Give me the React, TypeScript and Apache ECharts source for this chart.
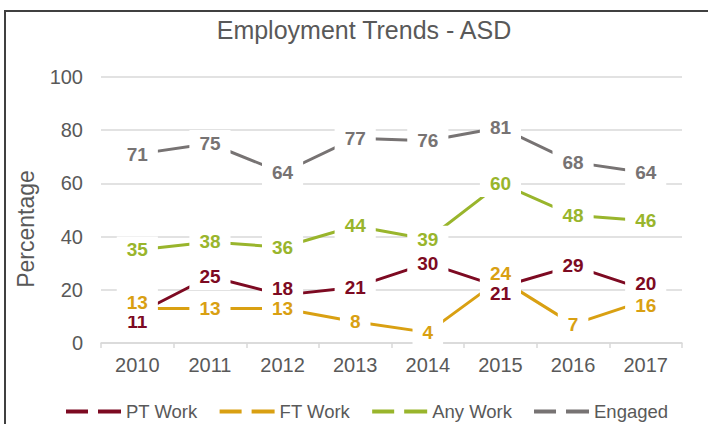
import React, { useEffect, useRef } from "react";
import * as echarts from "echarts";

const years = ["2010", "2011", "2012", "2013", "2014", "2015", "2016", "2017"];
const ptWork = [11, 25, 18, 21, 30, 21, 29, 20];
const ftWork = [13, 13, 13, 8, 4, 24, 7, 16];
const anyWork = [35, 38, 36, 44, 39, 60, 48, 46];
const engaged = [71, 75, 64, 77, 76, 81, 68, 64];

const seriesNames = ["PT Work", "FT Work", "Any Work", "Engaged"];
const seriesColors = ["#7d0a22", "#d9a012", "#99b52c", "#777373"];

// vertical nudges of some data labels (pixels), as in the reference
const labelNudges: Record<string, Record<number, number>> = {
  "PT Work": { 0: 8, 2: -7, 5: 6, 7: -6 },
  "FT Work": { 0: -6, 5: -6, 7: 5 },
};

const FONT = "'Liberation Sans', Arial, sans-serif";
const TXT = "#595959";

export default function App() {
  const ref = useRef<HTMLDivElement>(null);
  useEffect(() => {
    if (!ref.current) return;
    const chart = echarts.init(ref.current, undefined, { renderer: "svg" });
    const allValues = [ptWork, ftWork, anyWork, engaged];
    const series = seriesNames.map((name, si) => {
      const nudges = labelNudges[name] || {};
      return {
        name,
        type: "line",
        data: allValues[si].map((v, i) =>
          nudges[i] !== undefined
            ? { value: v, label: { offset: [0, nudges[i]] } }
            : v
        ),
        symbol: "circle",
        symbolSize: 0.01,
        showSymbol: true,
        lineStyle: { color: seriesColors[si], width: 3, cap: "butt" },
        itemStyle: { color: seriesColors[si] },
        label: {
          show: true,
          position: "inside",
          color: seriesColors[si],
          fontFamily: FONT,
          fontWeight: "bold",
          fontSize: 19,
          backgroundColor: "#ffffff",
          padding: [4, 10],
        },
        emphasis: { disabled: true },
        z: 2,
      };
    });
    chart.setOption({
      animation: false,
      backgroundColor: "#ffffff",
      textStyle: { fontFamily: FONT },
      grid: { left: 101, right: 26, top: 77, bottom: 81, containLabel: false },
      xAxis: {
        type: "category",
        data: years,
        boundaryGap: true,
        axisLine: { lineStyle: { color: "#d9d9d9", width: 1.5 } },
        axisTick: { show: true, length: 5, lineStyle: { color: "#d9d9d9", width: 1.5 } },
        axisLabel: { color: TXT, fontSize: 20, margin: 12, fontFamily: FONT },
        splitLine: { show: false },
      },
      yAxis: {
        type: "value",
        min: 0,
        max: 100,
        interval: 20,
        axisLine: { show: false },
        axisTick: { show: false },
        axisLabel: { color: TXT, fontSize: 20, margin: 18, fontFamily: FONT },
        splitLine: { lineStyle: { color: "#d9d9d9", width: 1.5 } },
      },
      legend: {
        data: seriesNames,
        left: 61,
        top: 397,
        itemWidth: 55,
        itemHeight: 4,
        itemGap: 22,
        icon: "path://M0,0H22V4H0Z M32,0H55V4H32Z",
        textStyle: { color: TXT, fontSize: 18.5, fontFamily: FONT },
        selectedMode: false,
      },
      graphic: [
        {
          type: "rect",
          shape: { x: 5, y: 11, width: 740, height: 440 },
          style: { fill: "none", stroke: "#404040", lineWidth: 2 },
          silent: true,
          z: 0,
        },
        {
          type: "text",
          x: 364,
          y: 30,
          style: {
            text: "Employment Trends - ASD",
            fill: TXT,
            font: `25px ${FONT}`,
            align: "center",
            verticalAlign: "middle",
          },
        },
        {
          type: "text",
          x: 26,
          y: 229,
          rotation: Math.PI / 2,
          style: {
            text: "Percentage",
            fill: TXT,
            font: `23px ${FONT}`,
            align: "center",
            verticalAlign: "middle",
          },
        },
      ],
      series,
    });
    return () => chart.dispose();
  }, []);
  return (
    <div
      ref={ref}
      style={{ position: "absolute", left: 0, top: 0, width: 708, height: 424 }}
    />
  );
}
